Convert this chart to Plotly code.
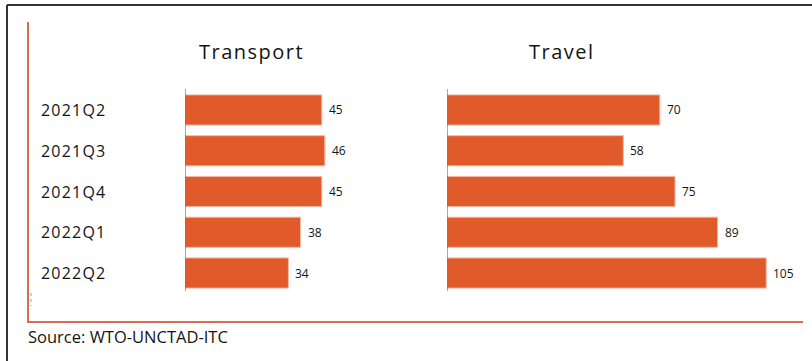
import plotly.graph_objects as go

quarters = ["2021Q2", "2021Q3", "2021Q4", "2022Q1", "2022Q2"]
transport = [45, 46, 45, 38, 34]
travel = [70, 58, 75, 89, 105]
panel_titles = ["Transport", "Travel"]
source_note = "Source: WTO-UNCTAD-ITC"

W, H = 812, 361
BAR = "#E05A2A"
FRAME = "#DA6C4E"
INK = "#141414"
FONT = "Open Sans"


def px(x):
    return x / W


def py(y):
    return 1 - y / H


def spaced(text, sp):
    return f'<span style="letter-spacing:{sp}px">{text}</span>'


fig = go.Figure()
for vals, xa in [(transport, "x"), (travel, "x2")]:
    fig.add_trace(go.Bar(
        x=vals, y=quarters, orientation="h", xaxis=xa, yaxis="y",
        marker=dict(color=BAR, line=dict(color="#F3B7A3", width=1)),
        showlegend=False, hoverinfo="x+y",
    ))
    # value labels just right of each bar end
    for q, v in zip(quarters, vals):
        fig.add_annotation(x=v, y=q, xref=xa, yref="y", text=str(v),
                           showarrow=False, xanchor="left", yanchor="middle",
                           xshift=5, font=dict(family=FONT, size=12, color=INK))

scale = 3.04  # pixels per unit on both panels
x1_l, x1_r = 185, 340
x2_l, x2_r = 447, 795
y_top, y_bot = 89.6, 293.4

fig.update_layout(
    width=W, height=H,
    margin=dict(l=0, r=0, t=0, b=0),
    paper_bgcolor="white", plot_bgcolor="white",
    bargap=0.26,
    xaxis=dict(domain=[px(x1_l), px(x1_r)], range=[0, (x1_r - x1_l) / scale],
               visible=False, fixedrange=True),
    xaxis2=dict(domain=[px(x2_l), px(x2_r)], range=[0, (x2_r - x2_l) / scale],
                visible=False, fixedrange=True, anchor="y"),
    yaxis=dict(domain=[py(y_bot), py(y_top)], categoryorder="array",
               categoryarray=quarters, autorange="reversed",
               showticklabels=False, showgrid=False, zeroline=False,
               fixedrange=True),
)

# category labels at the left
for q in quarters:
    fig.add_annotation(x=px(39), y=q, xref="paper", yref="y",
                       text=spaced(q, 1.2), showarrow=False,
                       xanchor="left", yanchor="middle",
                       font=dict(family=FONT, size=16, color=INK))

# panel titles
for title, (l, r) in zip(panel_titles, [(197, 306), (528, 596)]):
    fig.add_annotation(x=px((l + r) / 2), y=py(52), xref="paper", yref="paper",
                       text=spaced(title, 1.5), showarrow=False,
                       xanchor="center", yanchor="middle",
                       font=dict(family=FONT, size=20, color=INK))

# source note
fig.add_annotation(x=px(26), y=py(336), xref="paper", yref="paper",
                   text=source_note, showarrow=False,
                   xanchor="left", yanchor="middle",
                   font=dict(family=FONT, size=16.5, color=INK))

shapes = []
# baseline of each panel
for xa in ["x", "x2"]:
    shapes.append(dict(type="line", xref=xa, yref="paper", x0=0, x1=0,
                       y0=py(291), y1=py(89), line=dict(color="#555", width=1)))
# orange frame (left and bottom)
shapes.append(dict(type="line", xref="paper", yref="paper", x0=px(28), x1=px(28),
                   y0=py(22), y1=py(322), line=dict(color=FRAME, width=2)))
shapes.append(dict(type="line", xref="paper", yref="paper", x0=px(27), x1=px(803),
                   y0=py(322), y1=py(322), line=dict(color=FRAME, width=2)))
# outer dark border (top and left)
shapes.append(dict(type="line", xref="paper", yref="paper", x0=px(7), x1=1,
                   y0=py(5), y1=py(5), line=dict(color="#333", width=2)))
shapes.append(dict(type="line", xref="paper", yref="paper", x0=px(7), x1=px(7),
                   y0=py(5), y1=0, line=dict(color="#333", width=2)))
# small dotted mark near the frame corner
shapes.append(dict(type="line", xref="paper", yref="paper", x0=px(31), x1=px(31),
                   y0=py(293), y1=py(306), line=dict(color="#999", width=1, dash="dot")))
fig.update_layout(shapes=shapes)

fig.write_html("out.html")
